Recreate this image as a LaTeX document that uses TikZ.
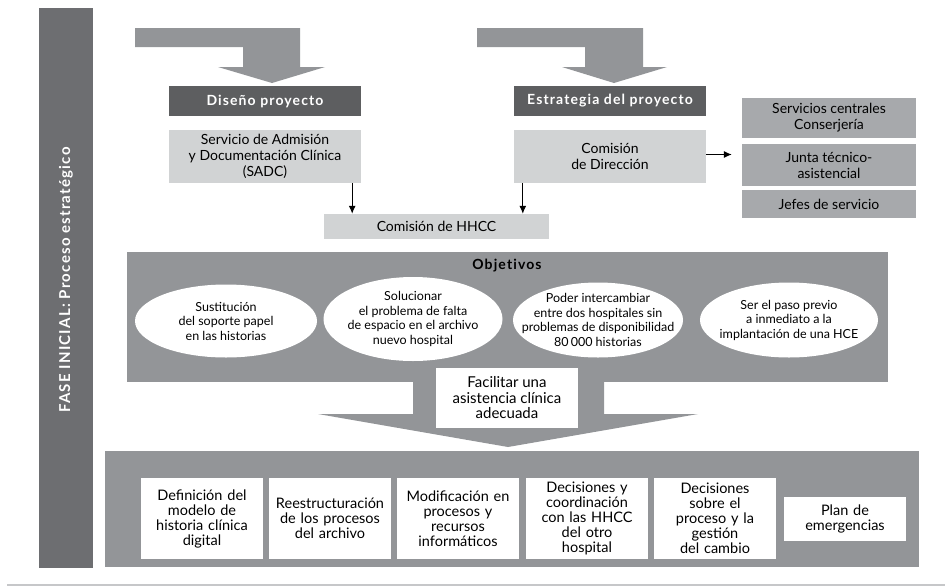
\documentclass[tikz,border=0pt]{standalone}
\usepackage{fontspec}
\setmainfont{Lato}
\newfontfamily\hfont[LetterSpace=8,Ligatures={NoCommon,NoRare}]{Lato}
\usetikzlibrary{arrows,arrows.meta,positioning,shapes.geometric}
\definecolor{darkgr}{HTML}{6D6E71}
\definecolor{hdrgr}{HTML}{5D5E60}
\definecolor{midgr}{HTML}{939598}
\definecolor{boxgr}{HTML}{A7A9AC}
\definecolor{lightgr}{HTML}{D1D3D4}
\definecolor{rulegr}{HTML}{C6C7C9}
\tikzset{
  hdr/.style={fill=hdrgr,text=white,font=\fontsize{14}{16}\selectfont\hfont\bfseries,minimum width=192pt,minimum height=30pt,inner sep=0pt},
  light/.style={fill=lightgr,align=center,font=\fontsize{14}{16}\selectfont,inner sep=0pt},
  side/.style={fill=boxgr,align=center,font=\fontsize{14}{16}\selectfont,minimum width=174pt,inner sep=0pt},
  goal/.style={ellipse,fill=white,inner sep=0pt},
  goaltxt/.style={align=center,font=\fontsize{12.5}{14.5}\selectfont,inner sep=0pt},
  task/.style={fill=white,align=center,font=\fontsize{14.5}{15}\selectfont,text width=118pt,inner sep=2pt,minimum height=81pt},
  link/.style={-{Latex[length=8pt,width=7pt]},line width=1pt}
}
\begin{document}
\begin{tikzpicture}[x=1pt,y=-1pt]
\useasboundingbox (0,0) rectangle (945,587);
% side bar
\node (fase) [fill=darkgr,rotate=90,minimum width=560pt,minimum height=54pt,inner sep=0pt,text=white,font=\fontsize{15}{17}\selectfont\hfont\bfseries] at (66,288) {\hspace*{16pt}FASE INICIAL: Proceso estrat\'egico};
% top arrows
\fill[midgr] (135,28) -- (300,28) -- (300,67) -- (325,67) -- (272,83) -- (218,67) -- (243,67) -- (243,47) -- (135,47) -- cycle;
\fill[midgr] (477,28) -- (643,28) -- (643,67) -- (667,67) -- (614,83) -- (562,67) -- (585,67) -- (585,47) -- (477,47) -- cycle;
%
\node (dis) [hdr] at (265,101) {Diseño proyecto};
\node (est) [hdr] at (610,101) {Estrategia del proyecto};
\node (sadc) [light,minimum width=192pt,minimum height=53pt] at (265,156.5) {Servicio de Admisión\\y Documentación Clínica\\(SADC)};
\node (cdir) [light,minimum width=192pt,minimum height=53pt] at (610,156.5) {Comisión\\de Dirección};
\node (hhcc) [light,minimum width=225pt,minimum height=25pt] at (436.5,226.5) {Comisión de HHCC};
\node (serv) [side,minimum height=40pt] at (829,118) {Servicios centrales\\Conserjería};
\node (junta) [side,minimum height=42pt] at (829,165) {Junta técnico-\\asistencial};
\node (jefes) [side,minimum height=28pt] at (829,204) {Jefes de servicio};
%
\path[link] ([xshift=-9pt]sadc.south east) edge ([xshift=-9pt]sadc.south east |- hhcc.north);
\path[link] ([xshift=9pt]cdir.south west) edge ([xshift=9pt]cdir.south west |- hhcc.north);
\path[link,shorten >=10pt] ([yshift=2pt]cdir.east) edge ([yshift=2pt]cdir.east -| junta.west);
% objectives
\node (obj) [fill=midgr,minimum width=761pt,minimum height=130pt,inner sep=0pt] at (507.5,317) {};
\fill[midgr] (413,381) -- (604,381) -- (604,414) -- (698,414) -- (508,447) -- (318,414) -- (413,414) -- cycle;
\node (objt) [font=\fontsize{14}{16}\selectfont\hfont\bfseries] at (507,266) {Objetivos};
\node (sust) [goal,minimum width=182pt,minimum height=73pt,label={[goaltxt]center:Sustitución\\del soporte papel\\en las historias}] at (226,321) {};
\node (espa) [goal,minimum width=179pt,minimum height=84pt,label={[goaltxt]center:Solucionar\\el problema de falta\\de espacio en el archivo\\nuevo hospital}] at (413,319) {};
\node (inter) [goal,minimum width=170pt,minimum height=75pt,label={[goaltxt]center:Poder intercambiar\\entre dos hospitales sin\\problemas de disponibilidad\\80\,000 historias}] at (598,320) {};
\node (hce) [goal,minimum width=178pt,minimum height=75pt,label={[goaltxt]center:Ser el paso previo\\a inmediato a la\\implantación de una HCE}] at (789,320) {};
\node (fac) [fill=white,align=center,minimum width=142pt,minimum height=60pt,inner sep=0pt,font=\fontsize{15}{15.5}\selectfont] at (507,398) {Facilitar una\\asistencia clínica\\adecuada};
% actions
\node (acc) [fill=midgr,minimum width=814pt,minimum height=116pt,inner sep=0pt] at (512,509) {};
\node (defi) [task] at (202,518.5) {Definición del\\modelo de\\historia clínica\\digital};
\node (rees) [task] at (330,518.5) {Reestructuración\\de los procesos\\del archivo};
\node (modi) [task] at (458,518.5) {Modificación en\\procesos y\\recursos\\informáticos};
\node (coor) [task] at (587,518.5) {Decisiones y\\coordinación\\con las HHCC\\del otro\\hospital};
\node (camb) [task] at (715,518.5) {Decisiones\\sobre el\\proceso y la\\gestión\\del cambio};
\node (emer) [task,minimum height=44pt] at (845,519) {Plan de\\emergencias};
%
\draw[rulegr,line width=1.2pt] (7,585) -- (945,585);
\end{tikzpicture}
\end{document}
